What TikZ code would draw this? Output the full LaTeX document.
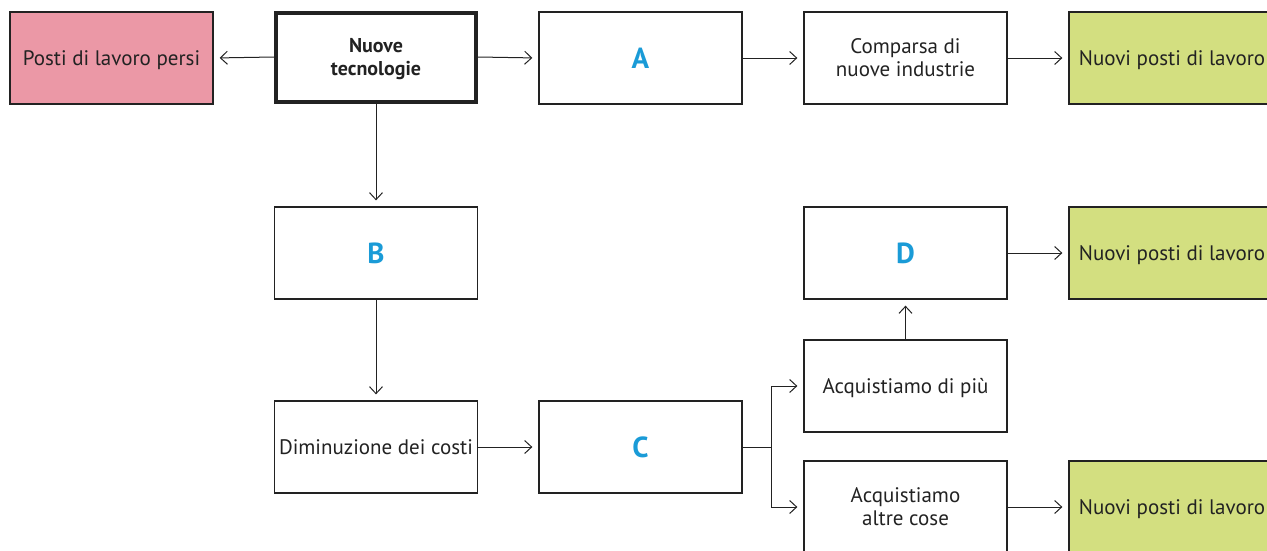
\documentclass[tikz,border=0pt]{standalone}
\usepackage{fontspec}
\setmainfont{PT Sans}
\usetikzlibrary{arrows.meta}
\definecolor{pinkc}{HTML}{EB98A6}
\definecolor{greenc}{HTML}{D3DF80}
\definecolor{bluec}{HTML}{1A9BD7}
\definecolor{linec}{HTML}{222222}
\begin{document}
\begin{tikzpicture}[x=1pt,y=-1pt,
  box/.style={draw=linec, line width=1.3pt, minimum width=203pt, minimum height=92pt, inner sep=0pt, align=center, text depth=0pt, font=\fontsize{21}{23}\selectfont, text=linec},
  letter/.style={box, font=\fontsize{29}{30}\selectfont\bfseries, text=bluec},
  arr/.style={-{Straight Barb[length=7pt,width=13pt]}, line width=1pt, draw=linec, shorten >=6pt}]
\useasboundingbox (0,0) rectangle (1267,550);
\node[box, fill=pinkc] (persi) at (111.5,58) {Posti di lavoro persi};
\node[box, line width=4pt, minimum width=200pt, minimum height=89pt, font=\fontsize{20}{23}\selectfont\bfseries] (nuove) at (376,57) {Nuove\\tecnologie};
\node[letter] (A) at (640.5,58) {A};
\node[box] (comp) at (905.5,58) {Comparsa di\\nuove industrie};
\node[box, fill=greenc, minimum width=206pt] (np1) at (1172,58) {Nuovi posti di lavoro};
\node[letter] (B) at (376,253) {B};
\node[letter] (D) at (905.5,253) {D};
\node[box, fill=greenc, minimum width=206pt] (np2) at (1172,253) {Nuovi posti di lavoro};
\node[box] (piu) at (905.5,386) {Acquistiamo di più};
\node[box] (dim) at (376,447) {Diminuzione dei costi};
\node[letter] (C) at (640.5,447) {C};
\node[box] (altre) at (905.5,507) {Acquistiamo\\altre cose};
\node[box, fill=greenc, minimum width=206pt] (np3) at (1172,507) {Nuovi posti di lavoro};
\coordinate (br) at (771,447);
\draw[arr] (nuove.west) -- (persi.east);
\draw[arr] (nuove.east) -- (A.west);
\draw[arr] (A.east) -- (comp.west);
\draw[arr] (comp.east) -- (np1.west);
\draw[arr] (nuove.south) -- (B.north);
\draw[arr] (B.south) -- (dim.north);
\draw[arr] (dim.east) -- (C.west);
\draw[arr] (D.east) -- (np2.west);
\draw[arr] (altre.east) -- (np3.west);
\draw[arr] (piu.north) -- (D.south);
\draw[line width=1pt, draw=linec] (C.east) -- (br);
\draw[arr] (br) |- (piu.west);
\draw[arr] (br) |- (altre.west);
\end{tikzpicture}
\end{document}
